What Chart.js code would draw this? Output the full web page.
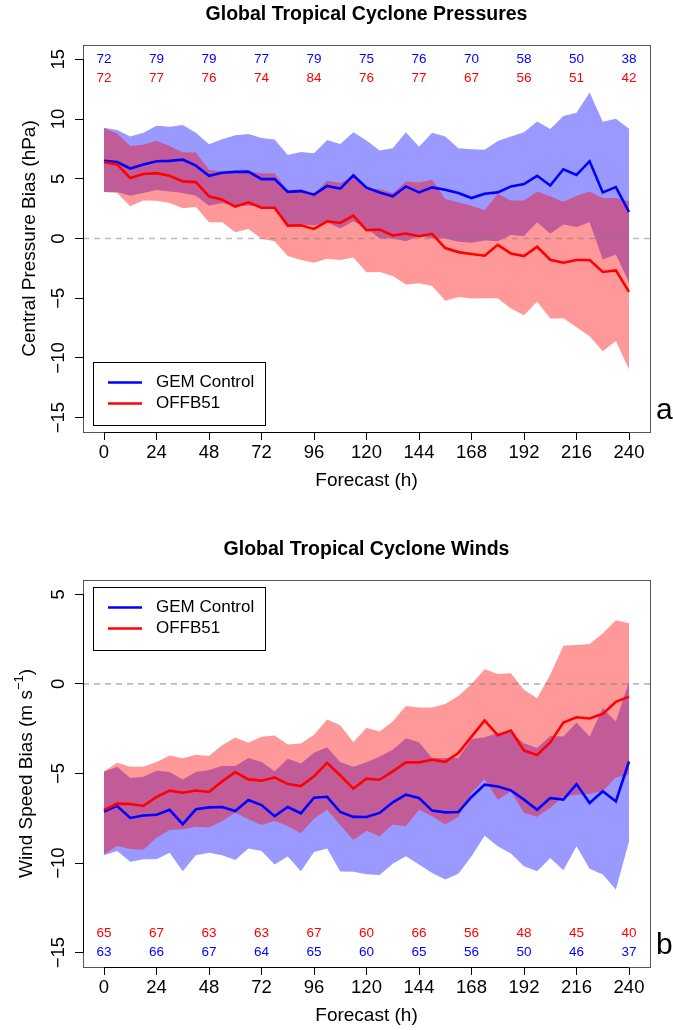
<!DOCTYPE html>
<html>
<head>
<meta charset="utf-8">
<script src="https://cdn.jsdelivr.net/npm/chart.js@4.4.1/dist/chart.umd.min.js"></script>
<style>
  body { margin: 0; background: #fff; }
  #wrap { position: relative; width: 673px; height: 1030px; }
  #wrap canvas { position: absolute; left: 0; }
</style>
</head>
<body>
<div id="wrap">
  <canvas id="pres" width="673" height="535" style="top:0"></canvas>
  <canvas id="wind" width="673" height="495" style="top:535px"></canvas>
</div>
<script>
// forecast hours (every 6 h)
const hours = [0, 6, 12, 18, 24, 30, 36, 42, 48, 54, 60, 66, 72, 78, 84, 90, 96, 102, 108, 114, 120,
  126, 132, 138, 144, 150, 156, 162, 168, 174, 180, 186, 192, 198, 204, 210, 216, 222, 228, 234, 240];
const xTicks = [0, 24, 48, 72, 96, 120, 144, 168, 192, 216, 240];

// central pressure bias (hPa)
const presGemMean = [6.5, 6.4, 5.86, 6.2, 6.47, 6.5, 6.6, 6.1, 5.25, 5.5, 5.58, 5.6, 4.97, 4.97, 3.9, 3.97, 3.67, 4.4, 4.17, 5.28, 4.25,
  3.86, 3.53, 4.36, 3.86, 4.28, 4.08, 3.8, 3.39, 3.75, 3.86, 4.36, 4.56, 5.25, 4.44, 5.8, 5.33, 6.47, 3.86, 4.3, 2.22];
const presGemUp = [9.28, 9.08, 8.53, 8.86, 9.44, 9.36, 9.5, 8.86, 7.89, 8.3, 8.64, 8.75, 8.42, 8.28, 7.0, 7.25, 7.14, 8.25, 7.92, 8.89, 8.2,
  7.36, 7.56, 8.89, 7.69, 8.86, 8.53, 7.56, 7.47, 7.42, 8.17, 8.53, 8.89, 9.8, 9.17, 10.25, 10.53, 12.22, 9.78, 10.03, 9.19];
const presGemLo = [3.89, 3.89, 3.58, 3.8, 4.06, 3.94, 3.8, 3.58, 2.75, 2.97, 2.69, 2.75, 2.69, 2.42, 1.17, 1.17, 1.08, 1.36, 0.83, 1.44, 0.86,
  0.0, 0.0, -0.22, 0.2, 0.0, 0.0, -0.28, -0.36, -0.17, -0.22, 0.3, 0.2, 1.36, 0.39, 1.17, 0.97, 1.36, -1.75, -1.33, -3.7];
const presOffMean = [6.39, 6.2, 5.06, 5.4, 5.47, 5.25, 4.78, 4.72, 3.53, 3.25, 2.67, 3.03, 2.58, 2.58, 1.08, 1.1, 0.8, 1.44, 1.3, 1.92, 0.7,
  0.75, 0.25, 0.42, 0.19, 0.39, -0.8, -1.14, -1.3, -1.44, -0.53, -1.25, -1.47, -0.69, -1.78, -2.03, -1.8, -1.8, -2.8, -2.67, -4.47];
const presOffUp = [9.22, 8.8, 7.75, 7.86, 8.19, 7.75, 7.22, 7.19, 5.75, 5.6, 5.47, 5.6, 5.47, 5.47, 4.0, 4.14, 3.75, 4.83, 4.64, 5.19, 4.2,
  4.14, 3.8, 4.78, 4.69, 4.92, 3.3, 3.03, 2.75, 2.36, 3.75, 3.19, 3.19, 3.94, 3.53, 3.08, 3.58, 3.94, 3.39, 3.39, 3.11];
const presOffLo = [3.89, 3.8, 2.69, 3.19, 3.17, 2.97, 2.53, 2.64, 1.36, 1.36, 0.53, 0.8, -0.03, -0.22, -1.47, -1.8, -2.03, -1.69, -1.8, -1.6, -2.83,
  -2.8, -3.14, -3.86, -3.75, -3.97, -5.22, -4.89, -5.03, -5.0, -5.0, -5.86, -6.42, -5.3, -6.69, -6.67, -7.44, -8.19, -9.44, -8.58, -10.97];
const presGemCount = [72, 79, 79, 77, 79, 75, 76, 70, 58, 50, 38];
const presOffCount = [72, 77, 76, 74, 84, 76, 77, 67, 56, 51, 42];
const presYTicks = [-15, -10, -5, 0, 5, 10, 15];

// wind speed bias (m/s)
const windGemMean = [-7.13, -6.81, -7.48, -7.34, -7.3, -7.03, -7.83, -7.0, -6.89, -6.87, -7.09, -6.48, -6.76, -7.38, -6.87, -7.22, -6.35, -6.3, -7.15, -7.42, -7.43,
  -7.2, -6.61, -6.18, -6.37, -7.07, -7.17, -7.15, -6.31, -5.62, -5.72, -5.94, -6.46, -7.02, -6.37, -6.46, -5.59, -6.65, -5.99, -6.56, -4.33];
const windGemUp = [-4.9, -4.62, -5.25, -5.18, -4.85, -4.92, -5.33, -4.92, -4.81, -4.58, -4.58, -4.14, -4.36, -4.87, -4.17, -4.44, -3.84, -3.53, -4.36, -4.62, -4.37,
  -4.05, -3.68, -3.03, -3.25, -4.14, -4.14, -4.14, -3.08, -2.97, -2.74, -2.71, -3.31, -3.58, -2.9, -2.94, -2.15, -2.94, -1.35, -2.1, 0.13];
const windGemLo = [-9.56, -9.32, -9.93, -9.79, -9.79, -9.42, -10.45, -9.56, -9.42, -9.56, -9.83, -9.19, -9.32, -10.08, -9.63, -10.45, -9.38, -9.19, -10.47, -10.49, -10.62,
  -10.67, -10.04, -9.62, -10.08, -10.55, -10.92, -10.59, -9.62, -8.47, -9.06, -9.47, -10.18, -10.45, -9.71, -10.4, -9.06, -10.32, -10.64, -11.47, -8.79];
const windOffMean = [-7.03, -6.68, -6.7, -6.81, -6.31, -5.96, -6.07, -5.95, -6.03, -5.44, -4.92, -5.33, -5.4, -5.22, -5.59, -5.7, -5.15, -4.4, -5.11, -5.84, -5.29,
  -5.35, -4.88, -4.38, -4.38, -4.23, -4.35, -3.86, -2.94, -2.04, -2.86, -2.6, -3.72, -3.97, -3.27, -2.15, -1.86, -1.93, -1.67, -1.0, -0.71];
const windOffUp = [-4.88, -4.4, -4.62, -4.62, -4.36, -3.99, -4.15, -3.95, -4.03, -3.43, -2.99, -3.29, -2.95, -2.88, -3.38, -3.33, -2.84, -1.98, -2.31, -3.25, -2.44,
  -2.66, -2.1, -1.23, -1.31, -1.31, -1.12, -0.67, 0.0, 0.82, 0.55, 0.59, -0.33, -0.8, 0.51, 2.13, 2.17, 2.23, 2.82, 3.56, 3.38];
const windOffLo = [-9.51, -9.04, -9.22, -9.26, -8.58, -8.15, -8.11, -7.97, -8.01, -7.67, -7.19, -7.56, -7.87, -7.65, -7.93, -8.34, -7.52, -7.03, -7.89, -8.71, -8.19,
  -8.5, -7.85, -7.95, -7.02, -7.39, -7.85, -7.42, -6.09, -5.31, -6.46, -5.99, -7.2, -7.42, -6.93, -6.28, -6.18, -6.15, -5.99, -5.22, -5.07];
const windGemCount = [63, 66, 67, 64, 65, 60, 65, 56, 50, 46, 37];
const windOffCount = [65, 67, 63, 63, 67, 60, 66, 56, 48, 45, 40];
const windYTicks = [-15, -10, -5, 0, 5];

const FONT = '"Liberation Sans", Arial, Helvetica, sans-serif';
const BLUE = '#0000ff';
const RED = '#ff0000';

function pts(vals) {
  return hours.map((h, i) => ({ x: h, y: vals[i] }));
}

function band(vals, color, order, fill) {
  return { data: pts(vals), backgroundColor: color, borderWidth: 0, pointRadius: 0, fill: fill, order: order, tension: 0 };
}

function meanLine(vals, color, order) {
  return { data: pts(vals), borderColor: color, borderWidth: 2.6, pointRadius: 0, fill: false, order: order, tension: 0 };
}

// zero line, box, rotated y labels, titles, counts, legend
function decoPlugin(p) {
  return {
    id: 'deco',
    afterDatasetDraw(chart, args) {
      if (args.index !== 2) return;
      const ctx = chart.ctx, a = chart.chartArea;
      const y0 = chart.scales.y.getPixelForValue(0);
      ctx.save();
      ctx.beginPath();
      ctx.rect(a.left, a.top, a.right - a.left, a.bottom - a.top);
      ctx.clip();
      ctx.strokeStyle = 'rgba(120,120,120,0.5)';
      ctx.lineWidth = 1.6;
      ctx.setLineDash([6, 5]);
      ctx.beginPath();
      ctx.moveTo(a.left, y0);
      ctx.lineTo(a.right, y0);
      ctx.stroke();
      ctx.restore();
    },
    afterDraw(chart) {
      const ctx = chart.ctx, a = chart.chartArea;
      const xs = chart.scales.x, ys = chart.scales.y;
      const cx = (a.left + a.right) / 2, cy = (a.top + a.bottom) / 2;
      ctx.save();

      // plot box
      ctx.strokeStyle = '#555';
      ctx.lineWidth = 1;
      ctx.strokeRect(a.left + 0.5, a.top + 0.5, a.right - a.left, a.bottom - a.top);
      // axis lines
      ctx.strokeStyle = '#000';
      ctx.beginPath();
      ctx.moveTo(xs.getPixelForValue(xTicks[0]), a.bottom + 0.5);
      ctx.lineTo(xs.getPixelForValue(xTicks[xTicks.length - 1]), a.bottom + 0.5);
      ctx.moveTo(a.left + 0.5, ys.getPixelForValue(p.yTicks[0]));
      ctx.lineTo(a.left + 0.5, ys.getPixelForValue(p.yTicks[p.yTicks.length - 1]));
      ctx.stroke();

      // y tick labels (parallel to axis)
      ctx.fillStyle = '#000';
      ctx.font = '18.5px ' + FONT;
      ctx.textAlign = 'center';
      ctx.textBaseline = 'middle';
      p.yTicks.forEach(v => {
        ctx.save();
        ctx.translate(a.left - 24, ys.getPixelForValue(v));
        ctx.rotate(-Math.PI / 2);
        ctx.fillText(String(v).replace('-', '\u2212'), 0, 0);
        ctx.restore();
      });

      // y axis title
      ctx.save();
      ctx.translate(p.yTitleX, cy);
      ctx.rotate(-Math.PI / 2);
      ctx.font = '19px ' + FONT;
      ctx.textBaseline = 'middle';
      if (p.ySup) {
        const supFont = '13px ' + FONT;
        const w1 = ctx.measureText(p.yTitle).width;
        ctx.font = supFont;
        const w2 = ctx.measureText(p.ySup).width;
        ctx.font = '19px ' + FONT;
        const w3 = ctx.measureText(p.yTitleEnd).width;
        let x = -(w1 + w2 + w3) / 2;
        ctx.textAlign = 'left';
        ctx.fillText(p.yTitle, x, 0);
        ctx.font = supFont;
        ctx.fillText(p.ySup, x + w1, -8);
        ctx.font = '19px ' + FONT;
        ctx.fillText(p.yTitleEnd, x + w1 + w2, 0);
      } else {
        ctx.textAlign = 'center';
        ctx.fillText(p.yTitle, 0, 0);
      }
      ctx.restore();

      // main title and x title
      ctx.textAlign = 'center';
      ctx.textBaseline = 'middle';
      ctx.font = 'bold 19.5px ' + FONT;
      ctx.fillText(p.title, cx, 15);
      ctx.font = '19px ' + FONT;
      ctx.fillText('Forecast (h)', cx, a.bottom + 49);

      // case counts
      ctx.font = '13.5px ' + FONT;
      const yc = ys.getPixelForValue(p.countAt);
      xTicks.forEach((h, i) => {
        const x = xs.getPixelForValue(h);
        ctx.fillStyle = BLUE;
        ctx.fillText(String(p.gemCount[i]), x, yc + p.gemShift);
        ctx.fillStyle = RED;
        ctx.fillText(String(p.offCount[i]), x, yc + p.offShift);
      });

      // legend
      const lx = a.left + 10, ly = p.legendTop(a);
      ctx.fillStyle = '#fff';
      ctx.fillRect(lx, ly, 172, 63);
      ctx.strokeStyle = '#000';
      ctx.lineWidth = 1;
      ctx.strokeRect(lx + 0.5, ly + 0.5, 172, 63);
      ctx.font = '17px ' + FONT;
      ctx.textAlign = 'left';
      [[BLUE, 'GEM Control', 20.5], [RED, 'OFFB51', 41.5]].forEach(([c, t, dy]) => {
        ctx.strokeStyle = c;
        ctx.lineWidth = 2.6;
        ctx.beginPath();
        ctx.moveTo(lx + 15, ly + dy);
        ctx.lineTo(lx + 49, ly + dy);
        ctx.stroke();
        ctx.fillStyle = '#000';
        ctx.fillText(t, lx + 63, ly + dy);
      });

      // panel letter
      ctx.font = '30px ' + FONT;
      ctx.textBaseline = 'alphabetic';
      ctx.fillText(p.letter, a.right + 6, a.bottom - 13);
      ctx.restore();
    }
  };
}

function makeChart(id, p) {
  const canvas = document.getElementById(id);
  return new Chart(canvas, {
    type: 'line',
    data: {
      datasets: [
        band(p.gemUp, 'rgba(0,0,255,0.4)', 6, '+1'),
        band(p.gemLo, 'rgba(0,0,255,0.4)', 5, false),
        band(p.offUp, 'rgba(255,0,0,0.4)', 4, '+1'),
        band(p.offLo, 'rgba(255,0,0,0.4)', 3, false),
        meanLine(p.gemMean, BLUE, 2),
        meanLine(p.offMean, RED, 1)
      ]
    },
    options: {
      responsive: false,
      animation: false,
      layout: { padding: { top: 45, right: 23, left: 0, bottom: 0 } },
      plugins: { legend: { display: false }, tooltip: { enabled: false }, title: { display: false } },
      scales: {
        x: {
          type: 'linear',
          min: -9.6,
          max: 249.6,
          afterBuildTicks: s => { s.ticks = xTicks.map(v => ({ value: v })); },
          afterFit: s => { s.height = canvas.height - 432; },
          border: { display: false },
          grid: { drawOnChartArea: false, drawTicks: true, tickLength: 8, color: '#000', lineWidth: 1 },
          ticks: { color: '#000', font: { family: FONT, size: 18.5 }, padding: 2, maxRotation: 0, autoSkip: false }
        },
        y: {
          type: 'linear',
          min: p.yMin,
          max: p.yMax,
          afterBuildTicks: s => { s.ticks = p.yTicks.map(v => ({ value: v })); },
          afterFit: s => { s.width = 83; },
          border: { display: false },
          grid: { drawOnChartArea: false, drawTicks: true, tickLength: 8, color: '#000', lineWidth: 1 },
          ticks: { display: false }
        }
      }
    },
    plugins: [decoPlugin(p)]
  });
}

makeChart('pres', {
  gemMean: presGemMean, gemUp: presGemUp, gemLo: presGemLo,
  offMean: presOffMean, offUp: presOffUp, offLo: presOffLo,
  gemCount: presGemCount, offCount: presOffCount,
  yTicks: presYTicks, yMin: -16.2, yMax: 16.2,
  title: 'Global Tropical Cyclone Pressures',
  yTitle: 'Central Pressure Bias (hPa)', yTitleX: 30,
  countAt: 15, gemShift: 0, offShift: 19,
  legendTop: a => a.bottom - 70,
  letter: 'a'
});

makeChart('wind', {
  gemMean: windGemMean, gemUp: windGemUp, gemLo: windGemLo,
  offMean: windOffMean, offUp: windOffUp, offLo: windOffLo,
  gemCount: windGemCount, offCount: windOffCount,
  yTicks: windYTicks, yMin: -15.8, yMax: 5.8,
  title: 'Global Tropical Cyclone Winds',
  yTitle: 'Wind Speed Bias (m s', ySup: '\u22121', yTitleEnd: ')', yTitleX: 27,
  countAt: -15, gemShift: 0, offShift: -19,
  legendTop: a => a.top + 7,
  letter: 'b'
});
</script>
</body>
</html>
